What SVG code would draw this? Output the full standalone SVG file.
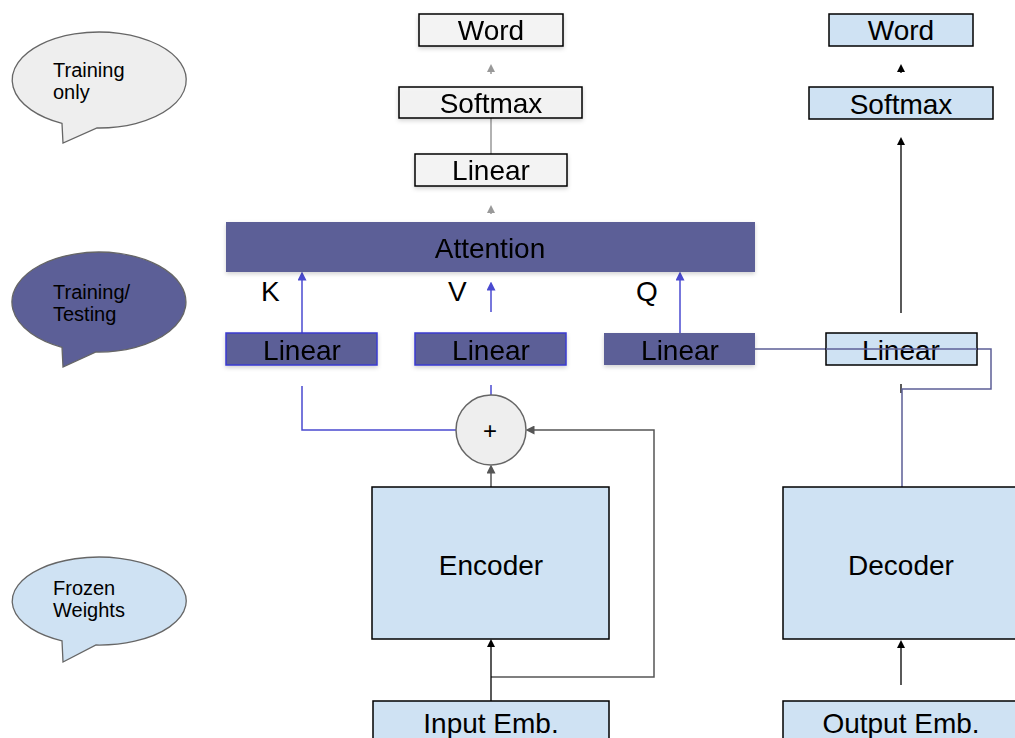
<svg xmlns="http://www.w3.org/2000/svg" width="1015" height="738" viewBox="0 0 1015 738">
  <style>
    text { font-family: "Liberation Sans", Arial, sans-serif; fill: #000; }
    .lbl { font-size: 28px; text-anchor: middle; }
    .note { font-size: 20px; }
    .gray { fill: #f3f3f3; stroke: #000; stroke-width: 1.5; }
    .blue { fill: #cfe2f3; stroke: #000; stroke-width: 1.5; }
    .purple { fill: #5c5f97; }
    .purple-b { fill: #5c5f97; stroke: #3b3bd0; stroke-width: 1.5; }
    .bubble { stroke: #666; stroke-width: 1.3; }
    .c-gray { fill: none; stroke: #999; stroke-width: 1.5; }
    .c-dark { fill: none; stroke: #555; stroke-width: 1.5; }
    .c-black { fill: none; stroke: #000; stroke-width: 1.3; }
    .c-blue { fill: none; stroke: #4a4ad0; stroke-width: 1.5; }
    .c-purple { fill: none; stroke: #5c5f97; stroke-width: 1.5; }
  </style>
  <defs>
    <filter id="shadow" x="-10%" y="-30%" width="120%" height="170%">
      <feDropShadow dx="0" dy="2" stdDeviation="2" flood-color="#000" flood-opacity="0.18"/>
    </filter>
    <marker id="ah-gray" markerWidth="8" markerHeight="8" refX="4" refY="4" orient="auto" markerUnits="userSpaceOnUse">
      <path d="M0,0 L8,4 L0,8 z" fill="#999"/>
    </marker>
    <marker id="ah-dark" markerWidth="9" markerHeight="9" refX="4.5" refY="4.5" orient="auto" markerUnits="userSpaceOnUse">
      <path d="M0,0 L9,4.5 L0,9 z" fill="#555"/>
    </marker>
    <marker id="ah-black" markerWidth="8" markerHeight="8" refX="4" refY="4" orient="auto" markerUnits="userSpaceOnUse">
      <path d="M0,0 L8,4 L0,8 z" fill="#000"/>
    </marker>
    <marker id="ah-blue" markerWidth="9" markerHeight="9" refX="4.5" refY="4.5" orient="auto" markerUnits="userSpaceOnUse">
      <path d="M0,0 L9,4.5 L0,9 z" fill="#4a4ad0"/>
    </marker>
  </defs>

  <rect width="1015" height="738" fill="#fff"/>

  <!-- legend bubbles: ellipse with a tail at the lower left -->
  <g id="bubble-training-only">
    <path class="bubble" fill="#eeeeee" d="M62,123.4 A87,48 0 1 1 97,128 L63,143 Z"/>
    <text class="note" x="53" y="77">Training</text>
    <text class="note" x="53" y="99">only</text>
  </g>
  <g id="bubble-training-testing">
    <path class="bubble" fill="#5c5f97" d="M62,347.3 A87,50 0 1 1 96,352 L63,367 Z"/>
    <text class="note" x="53" y="299">Training/</text>
    <text class="note" x="53" y="321">Testing</text>
  </g>
  <g id="bubble-frozen">
    <path class="bubble" fill="#cfe2f3" d="M62,640.8 A87,44 0 1 1 96,645 L63,662 Z"/>
    <text class="note" x="53" y="595">Frozen</text>
    <text class="note" x="53" y="617">Weights</text>
  </g>

  <!-- connectors -->
  <g id="connectors">
    <!-- training head -->
    <path class="c-gray" d="M491,74 L491,68" marker-end="url(#ah-gray)"/>
    <path class="c-gray" d="M491,154 L491,118"/>
    <path class="c-gray" d="M491,214 L491,209" marker-end="url(#ah-gray)"/>
    <!-- K, V, Q into attention -->
    <path class="c-blue" d="M302,333 L302,276" marker-end="url(#ah-blue)"/>
    <path class="c-blue" d="M491,312 L491,286" marker-end="url(#ah-blue)"/>
    <path class="c-blue" d="M680,333 L680,276" marker-end="url(#ah-blue)"/>
    <!-- sum into K / V -->
    <path class="c-blue" d="M491,385 L491,395"/>
    <path class="c-blue" d="M302,386 L302,430 L456,430"/>
    <!-- encoder to sum -->
    <path class="c-dark" d="M491,487 L491,469" marker-end="url(#ah-dark)"/>
    <!-- residual path from input embedding -->
    <path class="c-dark" d="M491,677 L654,677 L654,430 L530,430" marker-end="url(#ah-dark)"/>
    <path class="c-black" d="M491,701 L491,643" marker-end="url(#ah-black)"/>
    <!-- decoder side -->
    <path class="c-black" d="M901,685 L901,644" marker-end="url(#ah-black)"/>
    <path class="c-black" d="M901,384 L901,393"/>
    <path class="c-black" d="M901,313 L901,141" marker-end="url(#ah-black)"/>
    <path class="c-black" d="M901,73 L901,68" marker-end="url(#ah-black)"/>
    <!-- decoder state into Q -->
    <path class="c-purple" d="M755,349 L991,349 L991,389 L902,389 L902,487"/>
  </g>

  <!-- training-only head -->
  <g id="word-left" filter="url(#shadow)">
    <rect class="gray" x="419" y="14" width="144" height="32"/>
    <text class="lbl" x="491" y="40">Word</text>
  </g>
  <g id="softmax-left" filter="url(#shadow)">
    <rect class="gray" x="399" y="87" width="183" height="31" fill-opacity="0.85"/>
    <text class="lbl" x="491" y="113">Softmax</text>
  </g>
  <g id="linear-top" filter="url(#shadow)">
    <rect class="gray" x="415" y="154" width="152" height="32"/>
    <text class="lbl" x="491" y="180">Linear</text>
  </g>

  <!-- attention block -->
  <g id="attention" filter="url(#shadow)">
    <rect class="purple" x="226" y="222" width="529" height="50"/>
    <text class="lbl" x="490" y="258">Attention</text>
  </g>
  <g id="labels-kvq">
    <text x="261" y="301" style="font-size:28px">K</text>
    <text x="448" y="301" style="font-size:28px">V</text>
    <text x="636" y="301" style="font-size:28px">Q</text>
  </g>
  <g id="linear-k" filter="url(#shadow)">
    <rect class="purple-b" x="226" y="333" width="151" height="32"/>
    <text class="lbl" x="302" y="360">Linear</text>
  </g>
  <g id="linear-v" filter="url(#shadow)">
    <rect class="purple-b" x="415" y="333" width="151" height="32"/>
    <text class="lbl" x="491" y="360">Linear</text>
  </g>
  <g id="linear-q" filter="url(#shadow)">
    <rect class="purple" x="604" y="333" width="151" height="32"/>
    <text class="lbl" x="680" y="360">Linear</text>
  </g>

  <!-- sum node -->
  <g id="sum">
    <circle cx="491" cy="430" r="35" fill="#eeeeee" stroke="#666" stroke-width="1.5"/>
    <text x="490" y="439" style="font-size:24px;text-anchor:middle">+</text>
  </g>

  <!-- frozen encoder -->
  <g id="encoder">
    <rect class="blue" x="372" y="487" width="237" height="152"/>
    <text class="lbl" x="491" y="575">Encoder</text>
  </g>
  <g id="input-emb">
    <rect class="blue" x="373" y="701" width="236" height="50"/>
    <text class="lbl" x="491" y="733">Input Emb.</text>
  </g>

  <!-- frozen decoder -->
  <g id="word-right">
    <rect class="blue" x="829" y="14" width="144" height="32"/>
    <text class="lbl" x="901" y="40">Word</text>
  </g>
  <g id="softmax-right">
    <rect class="blue" x="809" y="87" width="184" height="32"/>
    <text class="lbl" x="901" y="114">Softmax</text>
  </g>
  <g id="linear-right">
    <rect class="blue" x="826" y="333" width="151" height="32"/>
    <text class="lbl" x="901" y="360">Linear</text>
  </g>
  <path class="c-purple" d="M826,349 L977,349"/>
  <g id="decoder">
    <rect class="blue" x="783" y="487" width="240" height="152"/>
    <text class="lbl" x="901" y="575">Decoder</text>
  </g>
  <g id="output-emb">
    <rect class="blue" x="783" y="701" width="240" height="50"/>
    <text class="lbl" x="901" y="733">Output Emb.</text>
  </g>
</svg>
